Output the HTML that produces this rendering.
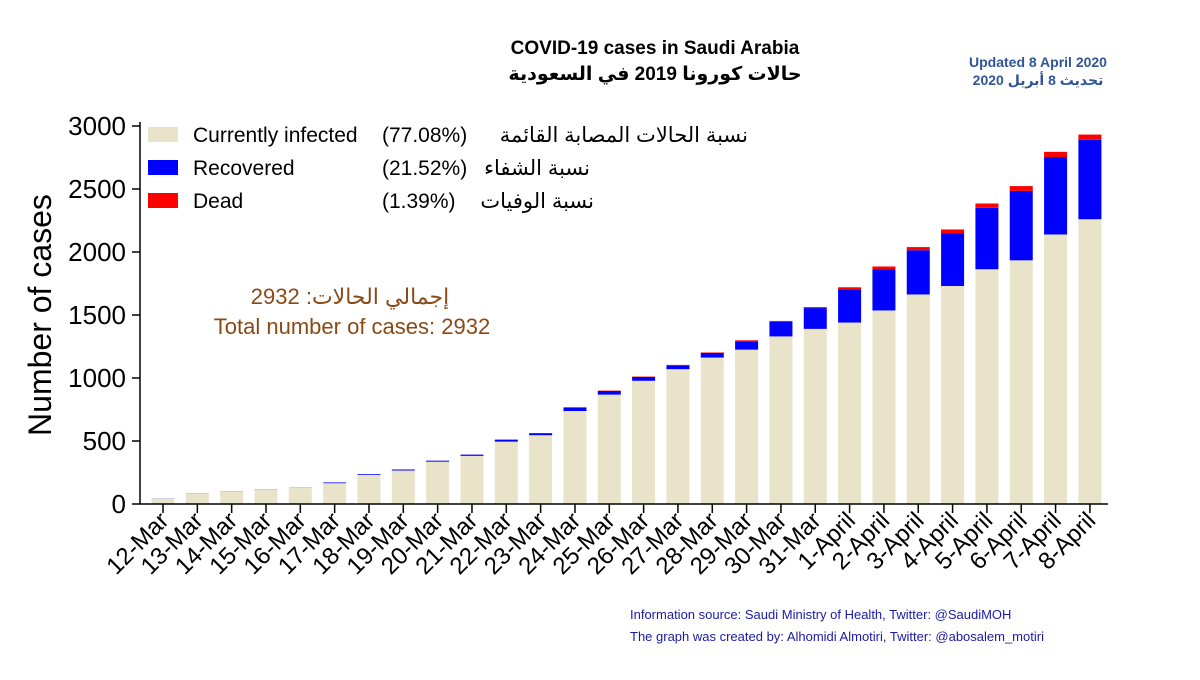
<!DOCTYPE html>
<html><head><meta charset="utf-8"><style>
body{margin:0;background:#fff;}
svg text{font-family:"Liberation Sans","Noto Sans CJK SC","DejaVu Sans",sans-serif;}
</style></head><body>
<svg id="chart" width="1200" height="675" xmlns="http://www.w3.org/2000/svg">
<text x="655" y="54" text-anchor="middle" font-size="19" font-weight="bold">COVID-19 cases in Saudi Arabia</text>
<text x="655" y="80" text-anchor="middle" font-size="19" font-weight="bold">حالات كورونا 2019  في السعودية</text>
<text x="1038" y="67" text-anchor="middle" font-size="14" font-weight="bold" fill="#2f5597">Updated 8 April 2020</text>
<text x="1038" y="85" text-anchor="middle" font-size="14" font-weight="bold" fill="#2f5597">تحديث 8 أبريل 2020</text>
<text transform="translate(51,315) rotate(-90)" text-anchor="middle" font-size="32">Number of cases</text>
<text x="350" y="304" text-anchor="middle" font-size="22" fill="#8a4a16">إجمالي الحالات: 2932</text>
<text x="352" y="334" text-anchor="middle" font-size="22" fill="#8a4a16">Total number of cases: 2932</text>
<g>
<rect x="148" y="127" width="30" height="15" fill="#e8e3c9"/>
<text x="193" y="142" font-size="21">Currently infected</text>
<text x="382" y="142" font-size="21">(77.08%)</text>
<text x="748" y="142" font-size="21" text-anchor="end">نسبة الحالات المصابة القائمة</text>
<rect x="148" y="160" width="30" height="15" fill="#0000ff"/>
<text x="193" y="175" font-size="21">Recovered</text>
<text x="382" y="175" font-size="21">(21.52%)</text>
<text x="590" y="175" font-size="21" text-anchor="end">نسبة الشفاء</text>
<rect x="148" y="193" width="30" height="15" fill="#ff0000"/>
<text x="193" y="208" font-size="21">Dead</text>
<text x="382" y="208" font-size="21">(1.39%)</text>
<text x="594" y="208" font-size="21" text-anchor="end">نسبة الوفيات</text>
</g>
<text x="630" y="619" font-size="13" fill="#1a1aa6">Information source:  Saudi Ministry of Health, Twitter: @SaudiMOH</text>
<text x="630" y="641" font-size="13" fill="#1a1aa6">The graph was created by: Alhomidi Almotiri, Twitter: @abosalem_motiri</text>
<g id="plot"></g>
</svg>
<script>
const categories=["12-Mar","13-Mar","14-Mar","15-Mar","16-Mar","17-Mar","18-Mar","19-Mar","20-Mar","21-Mar","22-Mar","23-Mar","24-Mar","25-Mar","26-Mar","27-Mar","28-Mar","29-Mar","30-Mar","31-Mar","1-April","2-April","3-April","4-April","5-April","6-April","7-April","8-April"];
const infected=[44,85,102,117,132,165,232,266,336,382,495,546,738,868,978,1070,1162,1225,1330,1390,1440,1536,1663,1730,1863,1934,2139,2260];
const recovered=[1,1,1,1,1,6,6,8,8,10,16,16,28,29,31,31,37,66,115,165,264,328,351,420,488,551,615,631];
const dead=[0,0,0,0,0,0,0,0,0,0,0,0,1,3,3,3,4,8,8,8,16,21,25,29,34,38,41,41];
const yTicks=[0,500,1000,1500,2000,2500,3000];
const NS="http://www.w3.org/2000/svg";
const plot=document.getElementById('plot');
const x0=163,step=34.33,bw=23,yBase=504,yScale=378/3000;
const xPos=i=>x0+i*step;
const yPos=v=>yBase-v*yScale;
function mk(tag,attrs){const e=document.createElementNS(NS,tag);for(const k in attrs)e.setAttribute(k,attrs[k]);plot.appendChild(e);return e;}
categories.forEach((c,i)=>{
  const cx=xPos(i);let base=0;
  const segs=[[infected[i],'#e8e3c9','infected'],[recovered[i],'#0000ff','recovered'],[dead[i],'#ff0000','dead']];
  segs.forEach(s=>{
    if(s[0]<=0)return;
    const r=mk('rect',{x:cx-bw/2,y:yPos(base+s[0]),width:bw,height:s[0]*yScale,fill:s[1]});
    
    
    base+=s[0];
  });
  const t=mk('line',{x1:cx,y1:yBase,x2:cx,y2:yBase+9,stroke:'#000','stroke-width':1.5});
  
  
  const l=mk('text',{transform:`translate(${cx+7},${yBase+18}) rotate(-45)`,'text-anchor':'end','font-size':24});
  l.textContent=c;
  
  
});
yTicks.forEach(v=>{
  const t=mk('line',{x1:132,y1:yPos(v),x2:140,y2:yPos(v),stroke:'#000','stroke-width':1.5});
  
  
  const l=mk('text',{x:126,y:yPos(v)+9,'text-anchor':'end','font-size':26});
  l.textContent=v;
  
  
});
const ya=mk('line',{x1:140,y1:122,x2:140,y2:yBase,stroke:'#000','stroke-width':1.5});


const xa=mk('line',{x1:140,y1:yBase,x2:1108,y2:yBase,stroke:'#000','stroke-width':1.5});


</script>
</body></html>
